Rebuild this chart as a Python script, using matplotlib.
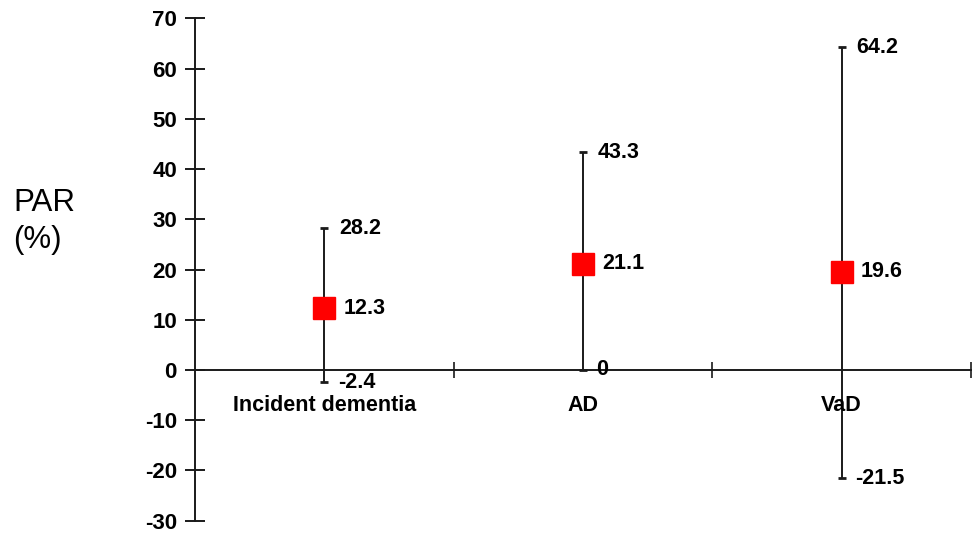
import matplotlib
matplotlib.use('Agg')
import matplotlib.pyplot as plt
import numpy as np

plt.rcParams['font.family'] = ['Liberation Sans', 'DejaVu Sans']
plt.rcParams['axes.unicode_minus'] = False

categories = ['Incident dementia', 'AD', 'VaD']
par = [12.3, 21.1, 19.6]
lower = [-2.4, 0, -21.5]
upper = [28.2, 43.3, 64.2]

fig = plt.figure(figsize=(9.72, 5.34), dpi=100)
ax = fig.add_axes([0.2006, 0.0249, 0.7984, 0.9408])

x = np.arange(len(categories)) + 0.5
err = [np.array(par) - np.array(lower), np.array(upper) - np.array(par)]
ax.errorbar(x, par, yerr=err, fmt='none', ecolor='#1a1a1a', elinewidth=1.4,
            capsize=3, capthick=2, zorder=2)
ax.plot(x, par, 's', color='#ff0000', markersize=16, zorder=3)

for xi, p, lo, hi in zip(x, par, lower, upper):
    ax.text(xi + 0.075, p, f'{p:g}', ha='left', va='center', fontsize=15.5,
            fontweight='bold')
    ax.text(xi + 0.058, hi, f'{hi:g}', ha='left', va='center', fontsize=15.5,
            fontweight='bold')
    ax.text(xi + 0.052, lo, f'{lo:g}', ha='left', va='center', fontsize=15.5,
            fontweight='bold')

for xi, c in zip(x, categories):
    ax.text(xi, -7.0, c, ha='center', va='center', fontsize=15.5, fontweight='bold')

ax.set_xlim(0, 3)
ax.set_ylim(-30, 70)
ax.set_yticks(np.arange(-30, 71, 10))
ax.set_xticks([1, 2, 3])
ax.set_xticklabels([])
ax.spines['top'].set_visible(False)
ax.spines['right'].set_visible(False)
ax.spines['bottom'].set_position(('data', 0))
ax.spines['left'].set_linewidth(1.4)
ax.spines['bottom'].set_linewidth(1.4)
ax.spines['left'].set_color('#1a1a1a')
ax.spines['bottom'].set_color('#1a1a1a')
ax.tick_params(axis='y', direction='inout', length=14, width=1.4, labelsize=16,
               pad=6, color='#1a1a1a')
ax.tick_params(axis='x', direction='inout', length=12, width=1.2, color='#1a1a1a')
for lab in ax.get_yticklabels():
    lab.set_fontweight('bold')

fig.text(0.014, 0.586, 'PAR\n(%)', ha='left', va='center', fontsize=22.5,
         linespacing=1.3)

fig.savefig('out.png', dpi=100)
